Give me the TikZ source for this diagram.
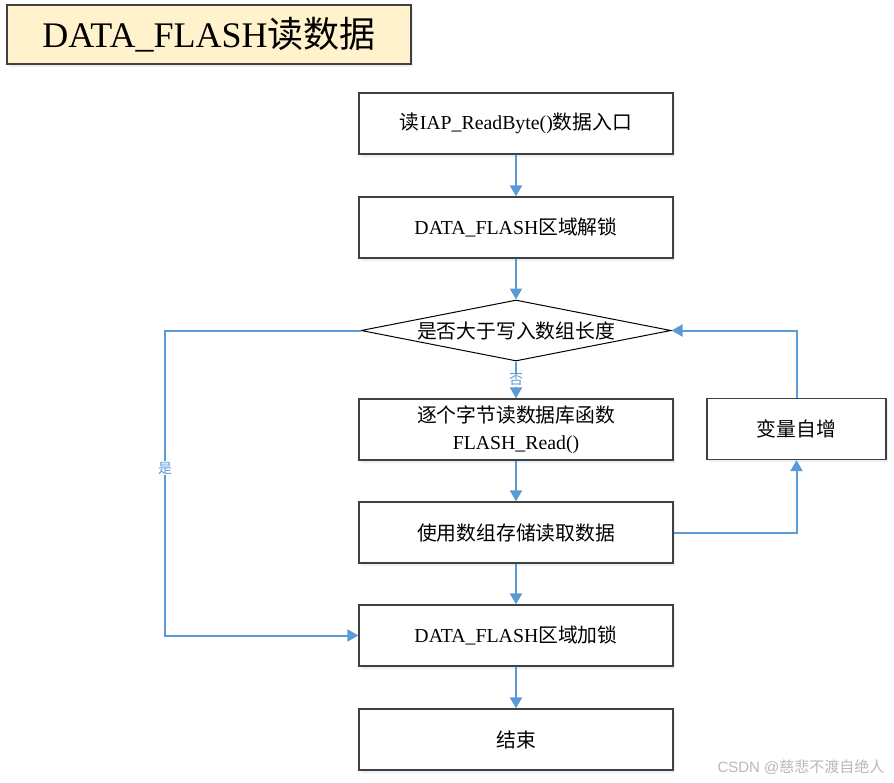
\documentclass[tikz,border=0pt]{standalone}
\usepackage{fontspec}
\setmainfont{Liberation Serif}
\newfontfamily\cjk{Noto Sans CJK SC}
\newfontfamily\wmfont{Liberation Sans}
\usetikzlibrary{arrows.meta,shapes.geometric,shadows}
\definecolor{flowblue}{RGB}{91,155,213}
\definecolor{titlefill}{RGB}{255,242,204}
\definecolor{boxline}{RGB}{64,64,64}
\tikzset{
  stepbox/.style={draw=boxline,fill=white,line width=1.2pt,minimum width=314pt,
    minimum height=61pt,inner sep=0pt,align=center,
    font=\fontsize{19.8}{27}\selectfont,
    drop shadow={shadow xshift=2pt,shadow yshift=-2.5pt,fill=flowblue!40,opacity=0.35}},
  decbox/.style={diamond,draw=black,fill=white,line width=1pt,aspect=5.08,
    inner sep=0pt,minimum width=310pt,minimum height=61pt,
    font=\fontsize{19.8}{27}\selectfont},
  flow/.style={draw=flowblue,line width=2pt,-{Triangle[width=12pt,length=11pt]}},
  lbl/.style={fill=white,text=flowblue,inner sep=1pt,font=\cjk\fontsize{14}{16}\selectfont}
}
\begin{document}
\begin{tikzpicture}[x=1pt,y=-1pt]
\useasboundingbox (0,0) rectangle (894,782);
\node[draw=boxline,fill=titlefill,line width=1.2pt,minimum width=404pt,minimum height=59pt,
  inner sep=0pt,font=\fontsize{36}{40}\selectfont,
  drop shadow={shadow xshift=2pt,shadow yshift=-2.5pt,fill=flowblue!40,opacity=0.35}]
  (title) at (209,34.5) {DATA\_FLASH{\cjk 读数据}};
\node[stepbox] (entry) at (516,123.5) {{\cjk 读}IAP\_ReadByte(){\cjk 数据入口}};
\node[stepbox] (unlock) at (516,227.5) {DATA\_FLASH{\cjk 区域解锁}};
\node[decbox] (check) at (516,330.5) {\cjk 是否大于写入数组长度};
\node[stepbox] (readb) at (516,429.5) {{\cjk 逐个字节读数据库函数}\\FLASH\_Read()};
\node[stepbox,minimum width=179pt] (incr) at (796.5,429) {\cjk 变量自增};
\node[stepbox] (store) at (516,532.5) {\cjk 使用数组存储读取数据};
\node[stepbox] (lock) at (516,635.5) {DATA\_FLASH{\cjk 区域加锁}};
\node[stepbox] (done) at (516,739.5) {\cjk 结束};
\coordinate (yesdn) at (165,480);
\draw[flow] (entry) -- (unlock);
\draw[flow] (unlock) -- (check);
\draw[flow] (check) -- (readb);
\draw[flow] (readb) -- (store);
\draw[flow] (store) -- (lock);
\draw[flow] (lock) -- (done);
\draw[flow] (store.east) -| (incr.south);
\draw[flow] (incr.north) |- (check.east);
\draw[flow] (check.west) -| (yesdn) |- (lock.west);
\node[lbl] (nolbl) at (516,380) {否};
\node[lbl] (yeslbl) at (165,468) {是};
\node[text=black!28,font=\wmfont\fontsize{15}{17}\selectfont,anchor=east]
  (mark) at (888,767) {CSDN @{\cjk 慈悲不渡自绝人}};
\end{tikzpicture}
\end{document}
